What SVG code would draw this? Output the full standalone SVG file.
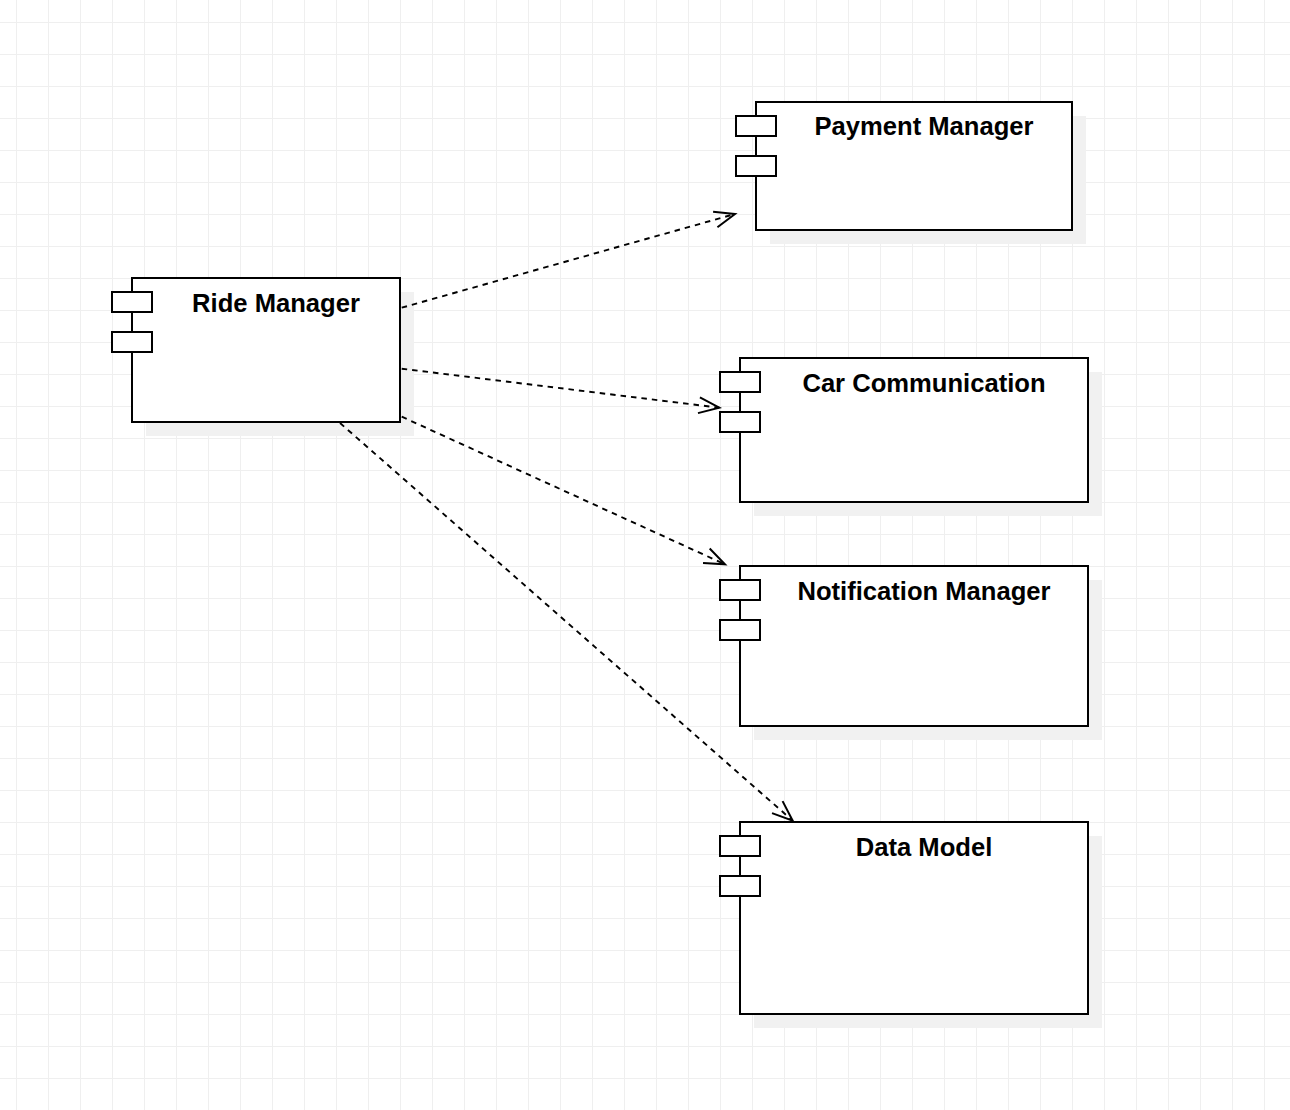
<svg xmlns="http://www.w3.org/2000/svg" width="1290" height="1110" viewBox="0 0 1290 1110">
<style>
.body{fill:#ffffff;stroke:#000000;stroke-width:2}
.port{fill:#ffffff;stroke:#000000;stroke-width:2}
.shadow{fill:#f1f1f1;stroke:none}
.label{font-family:"Liberation Sans",Arial,sans-serif;font-weight:bold;font-size:25.6px;fill:#000000;text-anchor:middle}
.edge{fill:none;stroke:#000000;stroke-width:1.9;stroke-dasharray:5.5 5}
</style>
<defs>
<pattern id="grid" patternUnits="userSpaceOnUse" x="16" y="22" width="32" height="32">
<path d="M0.5,0 V32 M0,0.5 H32" fill="none" stroke="#efefef" stroke-width="1"/>
</pattern>
<marker id="open" markerUnits="userSpaceOnUse" viewBox="-24 -12 28 24" refX="0" refY="0" markerWidth="28" markerHeight="24" orient="auto" overflow="visible">
<path d="M-20.5,-8 L0,0 L-20.5,8" fill="none" stroke="#000000" stroke-width="2"/>
</marker>
</defs>
<rect width="1290" height="1110" fill="#ffffff"/>
<rect width="1290" height="1110" fill="url(#grid)"/>

<g id="ride-manager">
<rect class="shadow" x="146" y="292" width="268" height="144"/>
<rect class="body" x="132" y="278" width="268" height="144"/>
<rect class="port" x="112" y="292" width="40" height="20"/>
<rect class="port" x="112" y="332" width="40" height="20"/>
<text class="label" x="276" y="312">Ride Manager</text>
</g>

<g id="payment-manager">
<rect class="shadow" x="770" y="116" width="316" height="128"/>
<rect class="body" x="756" y="102" width="316" height="128"/>
<rect class="port" x="736" y="116" width="40" height="20"/>
<rect class="port" x="736" y="156" width="40" height="20"/>
<text class="label" x="924" y="135">Payment Manager</text>
</g>

<g id="car-communication">
<rect class="shadow" x="754" y="372" width="348" height="144"/>
<rect class="body" x="740" y="358" width="348" height="144"/>
<rect class="port" x="720" y="372" width="40" height="20"/>
<rect class="port" x="720" y="412" width="40" height="20"/>
<text class="label" x="924" y="392">Car Communication</text>
</g>

<g id="notification-manager">
<rect class="shadow" x="754" y="580" width="348" height="160"/>
<rect class="body" x="740" y="566" width="348" height="160"/>
<rect class="port" x="720" y="580" width="40" height="20"/>
<rect class="port" x="720" y="620" width="40" height="20"/>
<text class="label" x="924" y="600">Notification Manager</text>
</g>

<g id="data-model">
<rect class="shadow" x="754" y="836" width="348" height="192"/>
<rect class="body" x="740" y="822" width="348" height="192"/>
<rect class="port" x="720" y="836" width="40" height="20"/>
<rect class="port" x="720" y="876" width="40" height="20"/>
<text class="label" x="924" y="856">Data Model</text>
</g>

<g id="connectors">
<path class="edge" d="M401.7,307.7 L735,214" marker-end="url(#open)"/>
<path class="edge" d="M401.7,368.7 L719.3,407.7" marker-end="url(#open)"/>
<path class="edge" d="M401.7,416.7 L725,564.3" marker-end="url(#open)"/>
<path class="edge" d="M340,423 L792.7,820.7" marker-end="url(#open)"/>
</g>
</svg>
